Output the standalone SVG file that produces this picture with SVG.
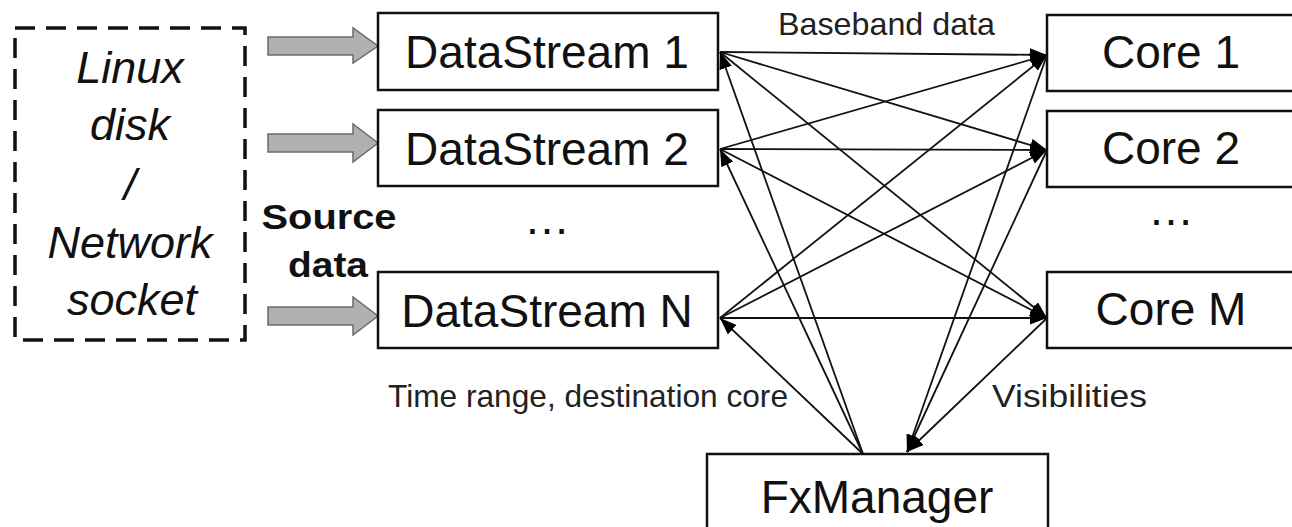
<svg xmlns="http://www.w3.org/2000/svg" width="1292" height="527" viewBox="0 0 1292 527">
<defs>
<marker id="ah" markerUnits="userSpaceOnUse" markerWidth="17" markerHeight="13" refX="17" refY="6.5" orient="auto">
<path d="M0,0 L17,6.5 L0,13 z" fill="#000"/>
</marker>
</defs>
<style>
.box{fill:#fff;stroke:#111;stroke-width:2.5}
.big{font-family:"Liberation Sans",Arial,sans-serif;font-size:46px;fill:#111;text-anchor:middle}
.src{font-family:"Liberation Sans",Arial,sans-serif;font-size:45px;font-style:italic;fill:#111;text-anchor:middle}
.lbl{font-family:"Liberation Sans",Arial,sans-serif;font-size:32px;fill:#222}
.bold{font-family:"Liberation Sans",Arial,sans-serif;font-size:35px;font-weight:bold;fill:#111;text-anchor:middle}
.garrow{fill:#b0b0b0;stroke:#6a6a6a;stroke-width:1.5}
.con line{stroke:#111;stroke-width:1.8;marker-end:url(#ah)}
</style>
<rect width="1292" height="527" fill="#fff"/>

<g id="source">
<rect x="15" y="28" width="230" height="312" fill="none" stroke="#111" stroke-width="3.5" stroke-dasharray="20 11"/>
<text class="src" x="130" y="83">Linux</text>
<text class="src" x="130" y="140">disk</text>
<text class="src" x="130" y="200">/</text>
<text class="src" x="130" y="258">Network</text>
<text class="src" x="132" y="315">socket</text>
</g>

<g id="source-arrows">
<polygon class="garrow" points="268,37 353,37 353,28 378,46 353,63 353,55 268,55"/>
<polygon class="garrow" points="268,134 353,134 353,124 378,143 353,162 353,152 268,152"/>
<polygon class="garrow" points="268,307 353,307 353,297 378,316 353,335 353,325 268,325"/>
<text class="bold" x="329" y="229" textLength="135" lengthAdjust="spacingAndGlyphs">Source</text>
<text class="bold" x="328" y="277" textLength="80" lengthAdjust="spacingAndGlyphs">data</text>
</g>

<g id="ds1"><rect class="box" x="378" y="13" width="340" height="77"/><text class="big" x="547" y="68">DataStream 1</text></g>
<g id="ds2"><rect class="box" x="378" y="110" width="340" height="76"/><text class="big" x="547" y="165">DataStream 2</text></g>
<g id="ds-dots"><text class="big" x="547" y="234">…</text></g>
<g id="dsn"><rect class="box" x="378" y="272" width="340" height="76"/><text class="big" x="547" y="327">DataStream N</text></g>

<g id="core1"><rect class="box" x="1047" y="15" width="270" height="76"/><text class="big" x="1171" y="68">Core 1</text></g>
<g id="core2"><rect class="box" x="1047" y="111" width="270" height="76"/><text class="big" x="1171" y="164">Core 2</text></g>
<g id="core-dots"><text class="big" x="1171" y="225">…</text></g>
<g id="corem"><rect class="box" x="1047" y="272" width="270" height="76"/><text class="big" x="1171" y="325">Core M</text></g>

<g id="fx"><rect class="box" x="707" y="454" width="341" height="100"/><text class="big" x="877" y="513">FxManager</text></g>

<g id="connectors" class="con">
<line x1="720" y1="52" x2="1047" y2="55"/>
<line x1="720" y1="52" x2="1047" y2="150"/>
<line x1="720" y1="52" x2="1047" y2="318"/>
<line x1="720" y1="149" x2="1047" y2="55"/>
<line x1="720" y1="149" x2="1047" y2="150"/>
<line x1="720" y1="149" x2="1047" y2="318"/>
<line x1="720" y1="318" x2="1047" y2="55"/>
<line x1="720" y1="318" x2="1047" y2="150"/>
<line x1="720" y1="318" x2="1047" y2="318"/>
<line x1="863" y1="454" x2="720" y2="52"/>
<line x1="863" y1="454" x2="720" y2="149"/>
<line x1="863" y1="454" x2="720" y2="318"/>
<line x1="1047" y1="55" x2="907" y2="452"/>
<line x1="1047" y1="150" x2="907" y2="452"/>
<line x1="1047" y1="318" x2="907" y2="452"/>
</g>

<g id="labels">
<text class="lbl" x="778" y="35" textLength="217" lengthAdjust="spacingAndGlyphs">Baseband data</text>
<text class="lbl" x="388" y="407" textLength="400" lengthAdjust="spacingAndGlyphs">Time range, destination core</text>
<text class="lbl" x="992" y="407" textLength="155" lengthAdjust="spacingAndGlyphs">Visibilities</text>
</g>
</svg>
